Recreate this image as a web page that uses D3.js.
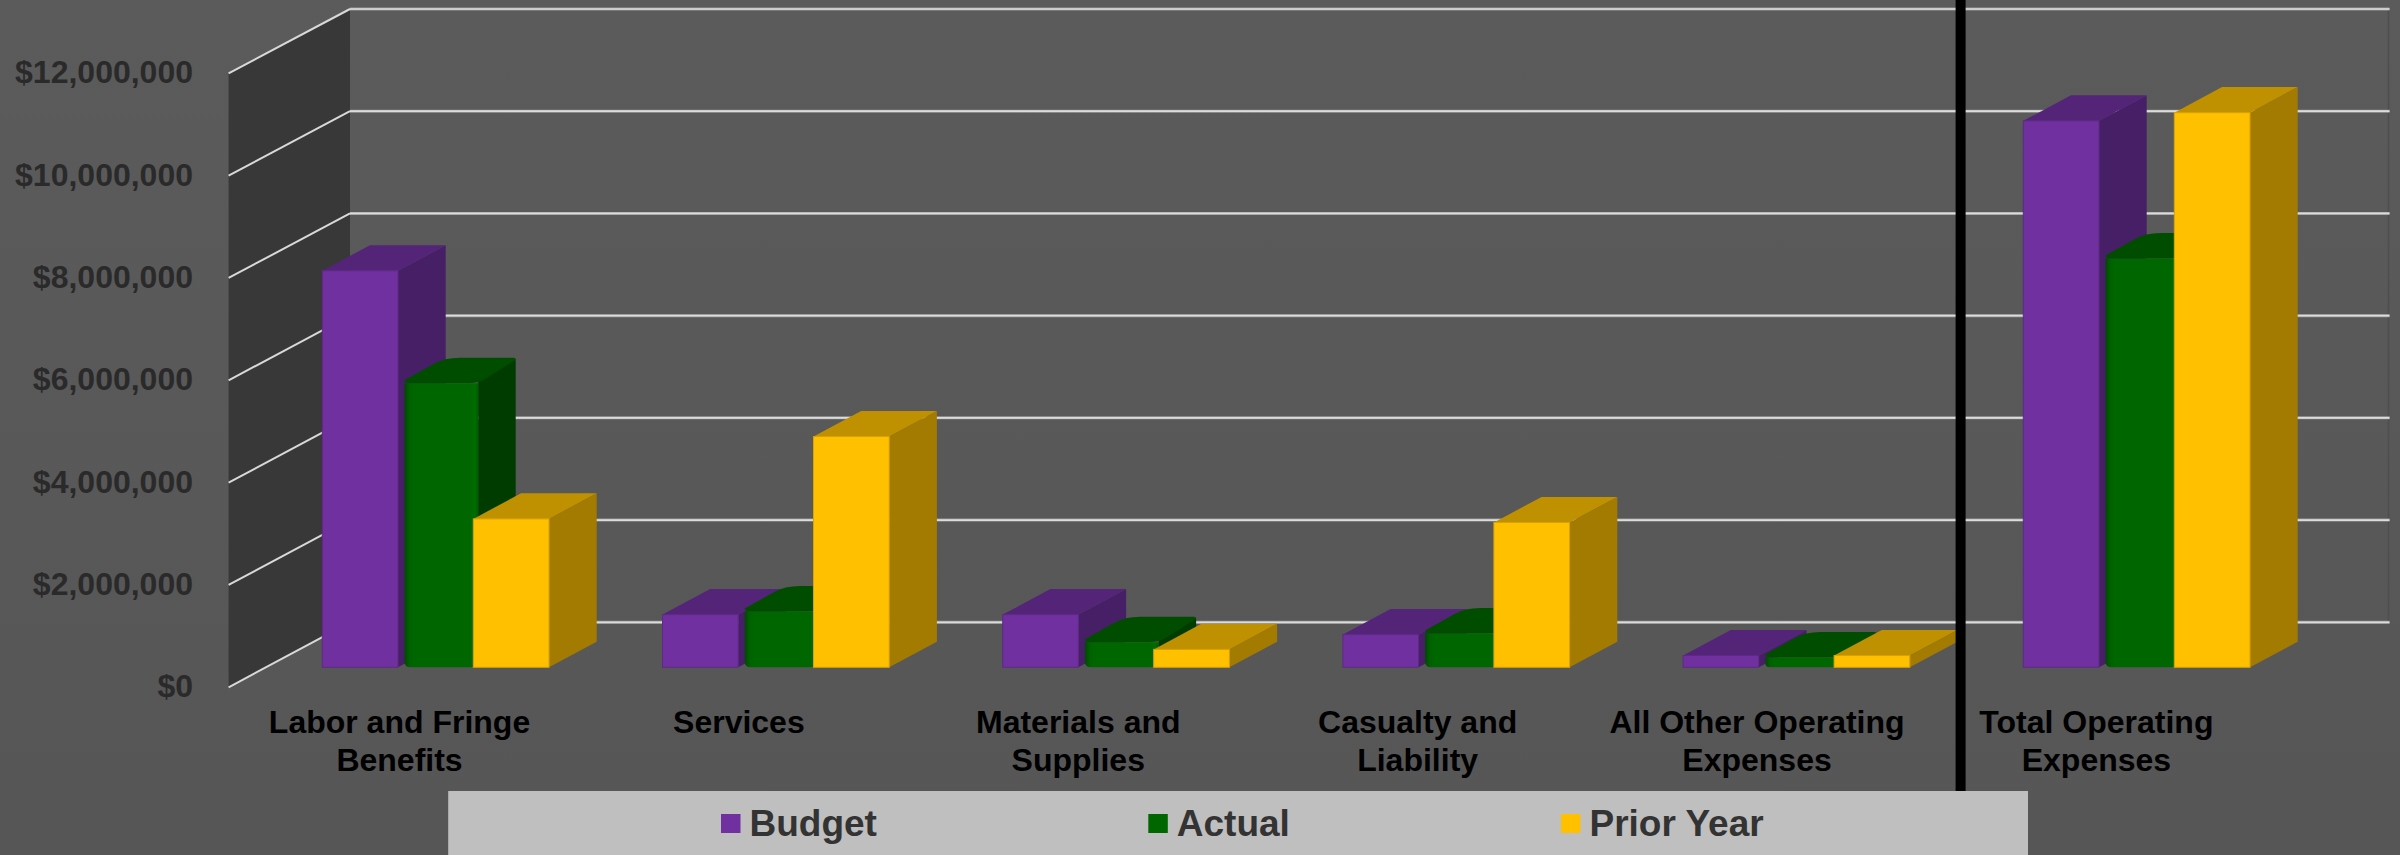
<!DOCTYPE html>
<html>
<head>
<meta charset="utf-8">
<script src="https://cdn.jsdelivr.net/npm/d3@7"></script>
<style>
html,body{margin:0;padding:0;background:#585858;overflow:hidden}
svg{display:block}
text{font-family:"Liberation Sans",Arial,sans-serif;font-weight:bold}
</style>
</head>
<body>
<svg id="chart" width="2400" height="855"></svg>
<script>
const categories = [
  ["Labor and Fringe","Benefits"],
  ["Services"],
  ["Materials and","Supplies"],
  ["Casualty and","Liability"],
  ["All Other Operating","Expenses"],
  ["Total Operating","Expenses"]
];
const seriesNames = ["Budget","Actual","Prior Year"];
const budget = [7750000,1030000,1030000,640000,230000,10680000];
const actual = [5550000,1090000,490000,660000,190000,7990000];
const priorYear = [2900000,4510000,350000,2830000,230000,10840000];
const tickValues = [0,2000000,4000000,6000000,8000000,10000000,12000000];
const seriesValues = [budget,actual,priorYear];
const frontColors = ["#7030A0","#006600","#FFC000"];
const topColors = ["#542479","#004d00","#BF9000"];
const sideColors = ["#471F66","#003c00","#A37B00"];
const strokeColors = ["#5d2a86","#005a00","#d9a300"];

const W = 2400, H = 855;
const svg = d3.select("#chart");
const defs = svg.append("defs");

const bg = defs.append("linearGradient").attr("id","bg").attr("x1",0).attr("y1",0).attr("x2",0).attr("y2",1);
bg.append("stop").attr("offset",0).attr("stop-color","#5b5b5b");
bg.append("stop").attr("offset",1).attr("stop-color","#565656");

const gg = defs.append("linearGradient").attr("id","greenFront").attr("x1",0).attr("y1",0).attr("x2",1).attr("y2",0);
[[0,"#004800"],[0.06,"#006000"],[0.12,"#006600"],[0.88,"#006600"],[0.96,"#006c00"],[1,"#005a00"]]
  .forEach(s=>gg.append("stop").attr("offset",s[0]).attr("stop-color",s[1]));

svg.append("rect").attr("width",W).attr("height",H).attr("fill","url(#bg)");

// Scales
const yFront = d3.scaleLinear().domain([0,12000000]).range([687.3,73.3]);
const yBack  = d3.scaleLinear().domain([0,12000000]).range([622.3,9]);
const yBar   = d3.scaleLinear().domain([0,12000000]).range([667.3,53.3]);
const wallFront = 228.6, wallBack = 350, plotRight = 2389.5;

// x: a band per category, with the three series placed inside it
const x0 = d3.scaleBand().domain(d3.range(categories.length)).range([322.3,322.3+340.2*6]).padding(0).align(0);
const x1 = d3.scaleOrdinal().domain(seriesNames).range([0,82.2,151]);
const xLabel = d3.scalePoint().domain(d3.range(categories.length)).range([399.5,2096.4]);
const barW = 75.7, depthX = 47.7, depthY = 25.6, greenDepthX = 35.5;

// Left wall
svg.append("path")
  .attr("d",d3.line()([[wallFront,yFront(12000000)],[wallBack,yBack(12000000)],[wallBack,yBack(0)],[wallFront,yFront(0)]])+"Z")
  .attr("fill","#383838");

// Right edge of back wall
svg.append("line").attr("x1",plotRight-1).attr("x2",plotRight-1).attr("y1",yBack(12000000)).attr("y2",yBack(0))
  .attr("stroke","#4e4e4e").attr("stroke-width",1.5);

// Gridlines
const grid = svg.append("g");
grid.selectAll("line.back").data(tickValues).join("line").attr("class","back")
  .attr("x1",wallBack).attr("x2",plotRight)
  .attr("y1",d=>yBack(d)).attr("y2",d=>yBack(d))
  .attr("stroke","#9a9a9a").attr("stroke-width",3);
grid.selectAll("line.backc").data(tickValues).join("line").attr("class","backc")
  .attr("x1",wallBack).attr("x2",plotRight)
  .attr("y1",d=>yBack(d)).attr("y2",d=>yBack(d))
  .attr("stroke","#dcdcdc").attr("stroke-width",1.7);
grid.selectAll("line.side").data(tickValues).join("line").attr("class","side")
  .attr("x1",wallFront).attr("x2",wallBack)
  .attr("y1",d=>yFront(d)).attr("y2",d=>yBack(d))
  .attr("stroke","#d9d9d9").attr("stroke-width",2);

// Y tick labels
svg.append("g").selectAll("text").data(tickValues).join("text")
  .attr("x",193).attr("y",d=>yFront(d)-1.5).attr("dy","0.36em")
  .attr("text-anchor","end").attr("font-size",32).attr("fill","#2a2a2a")
  .text(d=>d3.format("$,")(d));

// Bars
function plainBar(g,x,top,base,s){
  const r = x+barW;
  g.append("path").attr("d",d3.line()([[r,top],[r+depthX,top-depthY],[r+depthX,base-depthY],[r,base]])+"Z")
    .attr("fill",sideColors[s]);
  g.append("path").attr("d",d3.line()([[x,top],[x+depthX,top-depthY],[r+depthX,top-depthY],[r,top]])+"Z")
    .attr("fill",topColors[s]);
  g.append("rect").attr("x",x).attr("y",top).attr("width",barW).attr("height",base-top)
    .attr("fill",frontColors[s]).attr("stroke",strokeColors[s]).attr("stroke-width",1);
}
function bevelBar(g,x,top,base,s){
  const r = x+barW, bx = greenDepthX, by = depthY;
  // side
  g.append("path").attr("d",d3.line()([[r-2,top-4],[r+bx,top-by+1],[r+bx,base-by],[r-2,base]])+"Z")
    .attr("fill",sideColors[s]);
  // top, with softened corners
  const t = d3.path();
  t.moveTo(x,top-3);
  t.lineTo(x+bx-6,top-by+6);
  t.quadraticCurveTo(x+bx+4,top-by,x+bx+20,top-by);
  t.lineTo(r+bx-2,top-by);
  t.quadraticCurveTo(r+bx,top-by,r+bx,top-by+2);
  t.lineTo(r+3,top-3);
  t.quadraticCurveTo(r-3,top,r-14,top);
  t.lineTo(x+5,top);
  t.quadraticCurveTo(x,top,x,top-3);
  t.closePath();
  g.append("path").attr("d",t.toString()).attr("fill",topColors[s]);
  // front, with softened bottom corners
  const f = d3.path(), rad = Math.min(6,(base-top)/2);
  f.moveTo(x,top);
  f.lineTo(r-2,top);
  f.lineTo(r-2,base-rad);
  f.quadraticCurveTo(r-2,base,r-2-rad*1.5,base);
  f.lineTo(x+rad,base);
  f.quadraticCurveTo(x,base,x,base-rad);
  f.closePath();
  g.append("path").attr("d",f.toString()).attr("fill","url(#greenFront)");
}
const barLayer = svg.append("g");
categories.forEach((c,i)=>{
  const g = barLayer.append("g");
  seriesNames.forEach((n,s)=>{
    const x = x0(i)+x1(n), top = yBar(seriesValues[s][i]), base = yBar(0);
    (s===1?bevelBar:plainBar)(g,x,top,base,s);
  });
});

// Category labels
const cat = svg.append("g").selectAll("text").data(categories).join("text")
  .attr("text-anchor","middle").attr("font-size",32).attr("fill","#000");
cat.selectAll("tspan").data((d,i)=>d.map(t=>({t,i}))).join("tspan")
  .attr("x",d=>xLabel(d.i))
  .attr("y",(d,j)=>733+j*38)
  .text(d=>d.t);

// Divider
svg.append("rect").attr("x",1955.6).attr("y",0).attr("width",10).attr("height",791).attr("fill","#000");

// Legend
svg.append("rect").attr("x",448.2).attr("y",791).attr("width",1579.8).attr("height",64).attr("fill","#BFBFBF");
const legendX = d3.scaleOrdinal().domain(seriesNames).range([721,1148.3,1561]);
const lg = svg.append("g").selectAll("g").data(seriesNames).join("g");
lg.append("rect").attr("x",d=>legendX(d)).attr("y",814).attr("width",19.5).attr("height",19)
  .attr("fill",(d,i)=>frontColors[i]);
lg.append("text").attr("x",d=>legendX(d)+28.5).attr("y",836).attr("font-size",37).attr("fill","#333")
  .text(d=>d);
</script>
</body>
</html>
